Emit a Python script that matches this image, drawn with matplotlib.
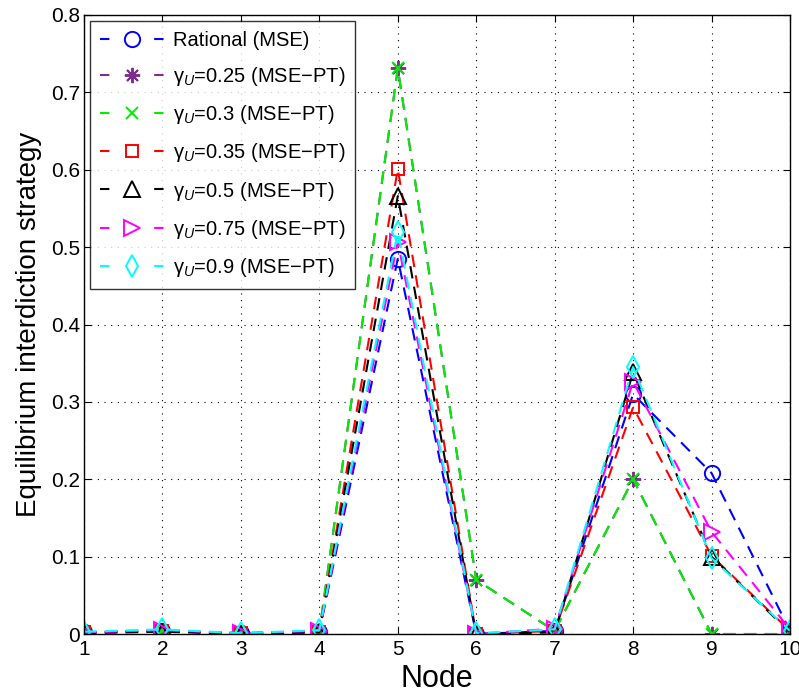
import matplotlib
matplotlib.use("Agg")
import matplotlib.pyplot as plt
import numpy as np

plt.rcParams['font.family'] = ['Liberation Sans', 'DejaVu Sans']
plt.rcParams['mathtext.fontset'] = 'custom'
plt.rcParams['mathtext.rm'] = 'Liberation Sans'
plt.rcParams['mathtext.it'] = 'Liberation Sans:italic'

nodes = [1, 2, 3, 4, 5, 6, 7, 8, 9, 10]
rational = [0.002, 0.004, 0.001, 0.003, 0.485, 0.0, 0.004, 0.310, 0.208, 0.004]
g025 = [0.002, 0.004, 0.001, 0.003, 0.731, 0.070, 0.004, 0.200, 0.000, 0.000]
g03 = [0.002, 0.004, 0.001, 0.003, 0.731, 0.070, 0.004, 0.200, 0.000, 0.000]
g035 = [0.002, 0.004, 0.001, 0.003, 0.601, 0.0, 0.004, 0.293, 0.101, 0.004]
g05 = [0.001, 0.003, 0.000, 0.002, 0.566, 0.0, 0.002, 0.338, 0.100, 0.002]
g075 = [0.002, 0.005, 0.001, 0.004, 0.507, 0.0, 0.007, 0.326, 0.132, 0.006]
g09 = [0.003, 0.006, 0.001, 0.005, 0.520, 0.001, 0.006, 0.345, 0.098, 0.004]

gammas = ['0.25', '0.3', '0.35', '0.5', '0.75', '0.9']
labels = ['Rational (MSE)'] + [r'$\mathregular{\gamma_{\mathit{U}}}$=' + v + ' (MSE\u2212PT)'
                               for v in gammas]
series = [rational, g025, g03, g035, g05, g075, g09]
colors = ['#0000ff', '#7e2f8e', '#00ee00', '#ff0000', '#000000', '#ff00ff', '#00ffff']
markers = ['o', (8, 2, 0), 'x', 's', '^', '>', 'd']
msizes = [11, 11, 9, 9, 11, 11, 11]

fig = plt.figure(figsize=(7.99, 6.98), dpi=100)
ax = fig.add_axes([84/799, 1-634/698, (790-84)/799, (634-15)/698])

for y, c, m, ms, lab in zip(series, colors, markers, msizes, labels):
    ax.plot(nodes, y, linestyle=(0, (6, 4)), color=c, marker=m, markersize=ms,
            markerfacecolor='none', markeredgecolor=c, markeredgewidth=1.4,
            linewidth=1.5, label=lab)

ax.set_xlim(1, 10)
ax.set_ylim(0, 0.8)
ax.set_xticks(nodes)
ax.set_yticks([0, 0.1, 0.2, 0.3, 0.4, 0.5, 0.6, 0.7, 0.8])
ax.set_yticklabels(['0', '0.1', '0.2', '0.3', '0.4', '0.5', '0.6', '0.7', '0.8'])
ax.tick_params(direction='in', labelsize=15, length=5, top=True, right=True, pad=3)
ax.tick_params(axis='x', pad=4)
ax.grid(True, linestyle=(0, (1, 5)), color='black', linewidth=0.8)
for s in ax.spines.values():
    s.set_linewidth(1.0)
ax.set_xlabel('Node', fontsize=22, labelpad=4)
ax.set_ylabel('Equilibrium interdiction strategy', fontsize=20, labelpad=6)

leg = ax.legend(loc='upper left', fontsize=14.5, handlelength=3.2, frameon=True,
                fancybox=False, edgecolor='black', borderpad=0.5, labelspacing=0.75,
                handletextpad=0.4, borderaxespad=0.3)
leg.get_frame().set_linewidth(1.0)
for ln in leg.get_lines():
    ln.set_linestyle((0, (4.5, 21.5)))

fig.savefig('out.png', dpi=100)
